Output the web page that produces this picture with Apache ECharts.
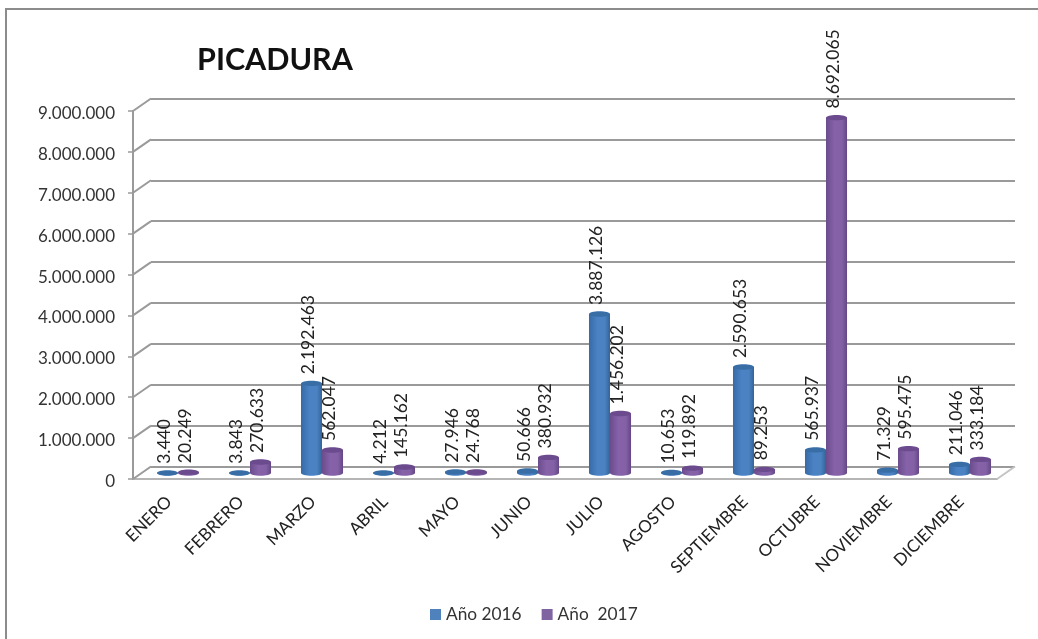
<!DOCTYPE html>
<html>
<head>
<meta charset="utf-8">
<style>html,body{margin:0;padding:0;background:#fff}#chart{width:1038px;height:639px}</style>
<script src="https://cdn.jsdelivr.net/npm/echarts@6/dist/echarts.min.js"></script>
</head>
<body>
<div id="chart"></div>
<script>
// datos
var meses = ['ENERO','FEBRERO','MARZO','ABRIL','MAYO','JUNIO','JULIO','AGOSTO','SEPTIEMBRE','OCTUBRE','NOVIEMBRE','DICIEMBRE'];
var ano2016 = [3440,3843,2192463,4212,27946,50666,3887126,10653,2590653,565937,71329,211046];
var ano2017 = [20249,270633,562047,145162,24768,380932,1456202,119892,89253,8692065,595475,333184];
var ticks = [0,1000000,2000000,3000000,4000000,5000000,6000000,7000000,8000000,9000000];

var fuente = 'Lato, "Open Sans", sans-serif';

// separador de miles con punto
function miles(v) {
  return String(v).replace(/\B(?=(\d{3})+(?!\d))/g, '.');
}

// cilindro + etiqueta
function cilindro(lado, colores) {
  return function (params, api) {
    var p = api.coord([api.value(0), api.value(1)]);
    var base = api.coord([api.value(0), 0]);
    var banda = api.size([1, 0])[0];
    var w = banda * 0.292;
    var ry = 2.7;
    var x = p[0] + lado * w / 2 - w / 2;
    var cx = x + w / 2;
    var k = 0.5523;
    var rx = w / 2;
    var cuerpo = [
      'M', x, p[1],
      'L', x, base[1],
      'C', x, base[1] + ry * k, cx - rx * k, base[1] + ry, cx, base[1] + ry,
      'C', cx + rx * k, base[1] + ry, x + w, base[1] + ry * k, x + w, base[1],
      'L', x + w, p[1], 'Z'
    ].join(' ');
    return {
      type: 'group',
      children: [
        {
          type: 'path',
          shape: { pathData: cuerpo },
          style: {
            fill: new echarts.graphic.LinearGradient(0, 0, 1, 0, [
              { offset: 0, color: colores[0] },
              { offset: 0.4, color: colores[1] },
              { offset: 0.75, color: colores[2] },
              { offset: 1, color: colores[3] }
            ])
          }
        },
        {
          type: 'ellipse',
          shape: { cx: cx, cy: p[1], rx: rx, ry: ry },
          style: { fill: colores[4] }
        },
        {
          type: 'text',
          x: cx - 3,
          y: p[1] - 9,
          rotation: Math.PI / 2,
          style: {
            text: miles(api.value(1)),
            font: '17.5px ' + fuente,
            fill: '#222',
            align: 'left',
            verticalAlign: 'middle'
          }
        }
      ]
    };
  };
}

// diagonales de la pared izquierda y del suelo
function diagonales(params, api) {
  var p = api.coord([0, api.value(0)]);
  var x0 = p[0] - api.size([1, 0])[0] / 2;
  return {
    type: 'line',
    shape: { x1: x0, y1: p[1], x2: x0 + 18, y2: p[1] - 12.5 },
    style: { stroke: '#9a9a9a', lineWidth: 2 }
  };
}
function diagonalDerecha(params, api) {
  var p = api.coord([11, 0]);
  var x0 = p[0] + api.size([1, 0])[0] / 2;
  return {
    type: 'line',
    shape: { x1: x0, y1: p[1], x2: x0 + 18, y2: p[1] - 12.5 },
    style: { stroke: '#c4c4c4', lineWidth: 2 }
  };
}

var option = {
  animation: false,
  backgroundColor: '#fff',
  textStyle: { fontFamily: fuente },
  title: {
    text: 'PICADURA',
    left: 192,
    top: 40,
    textStyle: { fontFamily: fuente, fontSize: 30.5, fontWeight: 'bold', color: '#111' }
  },
  legend: {
    left: 425,
    top: 601,
    icon: 'rect',
    itemWidth: 11,
    itemHeight: 11,
    itemGap: 20,
    data: ['Año 2016', 'Año  2017'],
    textStyle: { fontFamily: fuente, fontSize: 17.3, color: '#333' }
  },
  // solo quedan visibles el borde izquierdo y el superior
  graphic: [
    { type: 'line', silent: true, z: -1, shape: { x1: 6, y1: 8, x2: 6, y2: 639 }, style: { stroke: '#8c8c8c', lineWidth: 2 } },
    { type: 'line', silent: true, z: -1, shape: { x1: 5, y1: 9, x2: 1038, y2: 9 }, style: { stroke: '#8c8c8c', lineWidth: 2 } }
  ],
  grid: [
    { left: 133, width: 864, top: 111, height: 368 },   // plano frontal
    { left: 151, width: 864, top: 98.5, height: 368 },  // pared del fondo
    { left: 142, width: 864, top: 105, height: 368 }    // plano de los cilindros
  ],
  xAxis: [
    {
      type: 'category', gridIndex: 0, data: meses,
      axisLine: { lineStyle: { color: '#b5b5b5', width: 2 } },
      axisTick: { alignWithLabel: false, length: 5, lineStyle: { color: '#a6a6a6', width: 1.5 } },
      axisLabel: { interval: 0, rotate: 45, margin: 20, fontSize: 17, color: '#222', fontFamily: fuente }
    },
    { type: 'category', gridIndex: 1, data: meses, axisLine: { show: false }, axisTick: { show: false }, axisLabel: { show: false } },
    { type: 'category', gridIndex: 2, data: meses, axisLine: { show: false }, axisTick: { show: false }, axisLabel: { show: false } }
  ],
  yAxis: [
    {
      type: 'value', gridIndex: 0, min: 0, max: 9000000, interval: 1000000,
      splitLine: { show: false },
      axisLine: { show: true, lineStyle: { color: '#9a9a9a', width: 2 } },
      axisTick: { show: true, length: 5, lineStyle: { color: '#9a9a9a', width: 1.5 } },
      axisLabel: {
        margin: 18,
        formatter: function (v) { return '{n|' + miles(v) + '}'; },
        rich: { n: { fontSize: 17, color: '#333', fontFamily: fuente, padding: [5, 0, 0, 0] } }
      }
    },
    {
      type: 'value', gridIndex: 1, min: 0, max: 9000000, interval: 1000000,
      splitLine: { show: true, lineStyle: { color: '#9a9a9a', width: 2 } },
      axisLine: { show: false }, axisTick: { show: false }, axisLabel: { show: false }
    },
    {
      type: 'value', gridIndex: 2, min: 0, max: 9000000, interval: 1000000,
      splitLine: { show: false }, axisLine: { show: false }, axisTick: { show: false }, axisLabel: { show: false }
    }
  ],
  series: [
    {
      type: 'custom', xAxisIndex: 0, yAxisIndex: 0, silent: true, z: 1,
      renderItem: diagonales, data: ticks.map(function (t) { return [t]; }), encode: { y: 0 }
    },
    {
      type: 'custom', xAxisIndex: 0, yAxisIndex: 0, silent: true, z: 1,
      renderItem: diagonalDerecha, data: [[0]], encode: { y: 0 }
    },
    {
      name: 'Año 2016', type: 'custom', xAxisIndex: 2, yAxisIndex: 2, z: 3, silent: true,
      itemStyle: { color: '#4f81bd' },
      renderItem: cilindro(-1, ['#376aa5', '#4a82c4', '#4a82c2', '#336496', '#386da6']),
      data: ano2016.map(function (v, i) { return [i, v]; }),
      encode: { x: 0, y: 1 }
    },
    {
      name: 'Año  2017', type: 'custom', xAxisIndex: 2, yAxisIndex: 2, z: 4, silent: true,
      itemStyle: { color: '#8064a2' },
      renderItem: cilindro(1, ['#6a4c8c', '#8662a9', '#8461a7', '#644785', '#6b4a8e']),
      data: ano2017.map(function (v, i) { return [i, v]; }),
      encode: { x: 0, y: 1 }
    }
  ]
};

var chart = echarts.init(document.getElementById('chart'));
chart.setOption(option);
</script>
</body>
</html>
